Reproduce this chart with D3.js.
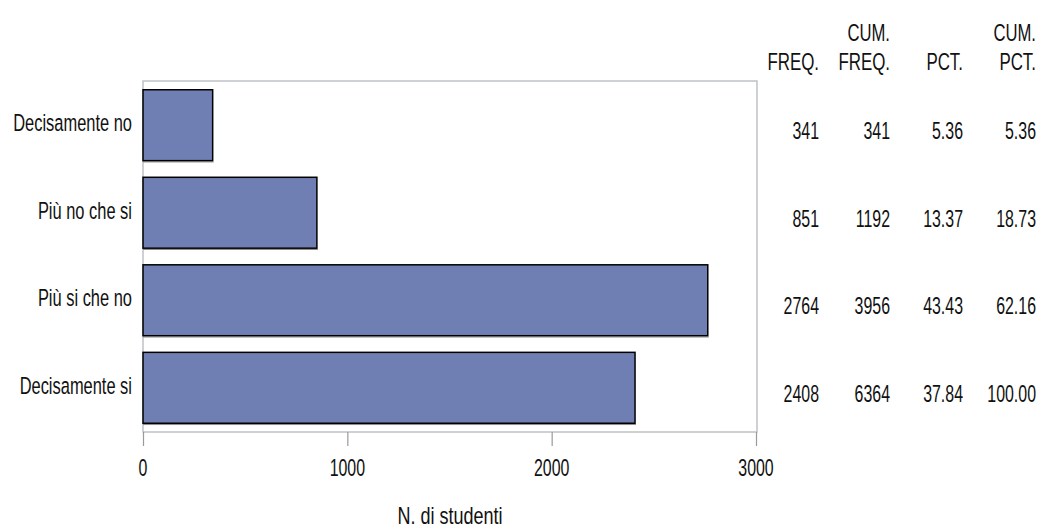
<!DOCTYPE html>
<html><head><meta charset="utf-8">
<script src="https://cdn.jsdelivr.net/npm/d3@7"></script>
<style>
html,body{margin:0;padding:0;background:#fff;}
text{font-family:"Liberation Sans",Arial,sans-serif;fill:#111;}
</style></head>
<body>
<svg id="c" width="1041" height="531"></svg>
<script>
const categories = ["Decisamente no","Più no che si","Più si che no","Decisamente si"];
const freq = [341, 851, 2764, 2408];
const cumFreq = [341, 1192, 3956, 6364];
const pct = ["5.36","13.37","43.43","37.84"];
const cumPct = ["5.36","18.73","62.16","100.00"];
const xTicks = [0, 1000, 2000, 3000];
const headers = [["","FREQ."],["CUM.","FREQ."],["","PCT."],["CUM.","PCT."]];
const xTitle = "N. di studenti";

const svg = d3.select("#c");
const L = 143, R = 757, T = 81, B = 432;
const x = d3.scaleLinear().domain([0, 3000]).range([L, R - 1]);
const y = d3.scaleBand().domain(categories).range([T, B]).paddingInner(0.19).paddingOuter(0.1);

function narrowText(g, tx, ty, str, anchor, size, sx){
  return g.append("text")
    .attr("transform", `translate(${tx},${ty}) scale(${sx},1)`)
    .attr("text-anchor", anchor)
    .style("font-size", size + "px")
    .text(str);
}

// frame
svg.append("rect").attr("x", L).attr("y", T).attr("width", R - L).attr("height", B - T)
  .attr("fill", "#fff").attr("stroke", "#b4b8bc").attr("stroke-width", 1.3);

// bars
const bars = svg.append("g");
bars.selectAll("line.sh").data(categories).join("line").attr("class","sh")
  .attr("x1", x(0)).attr("x2", (d, i) => x(freq[i]) + 1)
  .attr("y1", d => y(d) + y.bandwidth() + 1.3).attr("y2", d => y(d) + y.bandwidth() + 1.3)
  .attr("stroke", "#8a8a8a").attr("stroke-width", 1);
bars.selectAll("rect").data(categories).join("rect")
  .attr("x", x(0))
  .attr("y", d => y(d))
  .attr("width", (d, i) => x(freq[i]) - x(0))
  .attr("height", y.bandwidth())
  .attr("fill", "#6f7eb3")
  .attr("stroke", "#000").attr("stroke-width", 1.5);

// x axis
const ax = svg.append("g").attr("transform", `translate(0,${B})`)
  .call(d3.axisBottom(x).tickValues(xTicks).tickSize(14).tickFormat(d3.format("d")));
ax.select(".domain").remove();
ax.selectAll(".tick line").attr("stroke", "#9a9a9a").attr("stroke-width", 1.2);
ax.selectAll(".tick text").remove();
const lab = svg.append("g");
xTicks.forEach(t => narrowText(lab, x(t), 476, String(t), "middle", 24.5, 0.65));
narrowText(lab, (L + R) / 2, 524, xTitle, "middle", 24, 0.75);

// category labels
categories.forEach(c => narrowText(lab, 132, y(c) + y.bandwidth() / 2 + 6, c, "end", 23.5, 0.7));

// table
const colX = [819, 890, 963, 1036];
headers.forEach((h, j) => {
  if (h[0]) narrowText(lab, colX[j], 41, h[0], "end", 24.5, 0.68);
  narrowText(lab, colX[j], 70, h[1], "end", 24.5, 0.69);
});
categories.forEach((c, i) => {
  const yy = y(c) + y.bandwidth() / 2 + 14;
  [String(freq[i]), String(cumFreq[i]), pct[i], cumPct[i]].forEach((v, j) =>
    narrowText(lab, colX[j], yy, v, "end", 24.5, 0.65));
});
</script>
</body></html>
